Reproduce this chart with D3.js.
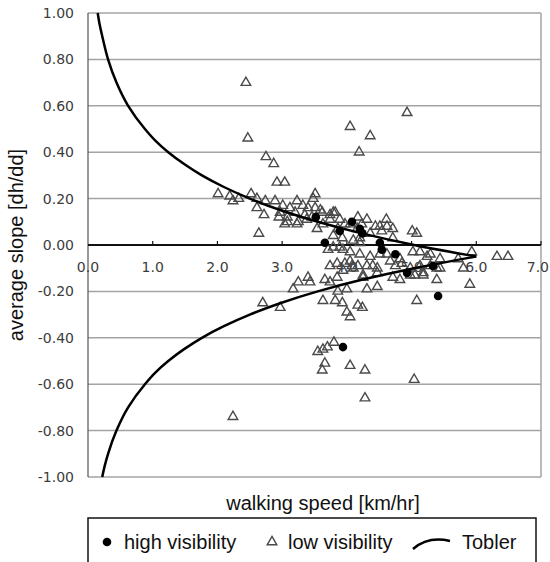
<!DOCTYPE html>
<html>
<head>
<meta charset="utf-8">
<script src="https://cdn.jsdelivr.net/npm/d3@7"></script>
<style>
  body { margin: 0; background: #fff; }
  svg { display: block; }
</style>
</head>
<body>
<div id="chart"></div>
<script>
const xTicks = [0, 1, 2, 3, 4, 5, 6, 7]
const yTicks = [1, 0.8, 0.6, 0.4, 0.2, 0, -0.2, -0.4, -0.6, -0.8, -1]

// high visibility (filled dots)
const highSpeed = [3.52, 3.66, 3.89, 4.08, 4.20, 4.24, 4.51, 4.54, 4.75, 4.93, 5.33, 5.41, 3.94]
const highSlope = [0.12, 0.01, 0.06, 0.10, 0.07, 0.05, 0.01, -0.02, -0.04, -0.12, -0.09, -0.22, -0.44]

// low visibility (open triangles)
const lowSpeed = [
  2.44, 2.47, 2.75, 2.87, 2.92, 3.04, 4.05, 4.36, 4.19, 4.93,
  2.01, 2.19, 2.24, 2.33, 2.52, 2.61, 2.74, 2.89, 2.61, 2.72,
  2.95, 2.64, 3.08, 3.23, 3.23, 3.32, 3.51, 3.48, 3.51, 3.38,
  3.62, 3.54, 3.74, 3.82, 3.01, 3.12, 3.40, 3.59, 3.08, 3.20,
  3.35, 3.46, 3.79, 3.74, 3.89, 3.63, 3.86, 3.97, 4.17, 4.23,
  4.31, 3.04, 3.25, 3.79, 3.93, 4.10, 4.20, 4.44, 4.51, 4.61,
  4.62, 4.54, 4.71, 5.01, 5.08, 4.05, 4.16, 4.36, 4.71, 2.97,
  5.93, 6.32, 6.49,
  3.79, 3.94, 3.71, 3.89, 4.20, 4.05, 4.20, 4.05, 4.10, 3.74,
  3.85, 3.94, 4.17, 4.25, 4.31, 4.40, 4.47, 4.36, 4.51, 4.62,
  4.67, 4.75, 4.82, 4.85, 4.98, 4.47, 4.71, 4.82, 4.98, 5.05,
  5.18, 5.02, 5.13, 5.24, 5.29, 5.44, 5.13, 5.29, 5.39, 5.44,
  5.72, 5.80, 5.39, 5.18, 5.90, 5.08, 4.47, 4.31, 4.25, 3.66,
  3.74, 3.85, 3.86, 4.00, 3.63, 3.82, 3.93, 4.00, 4.05, 4.17,
  4.24, 3.17, 3.25, 3.40, 3.43, 2.70, 2.97, 4.08, 3.97,
  3.55, 3.63, 3.70, 3.80, 3.66, 3.62, 4.05, 4.28, 5.04, 4.28, 2.24
]
const lowSlope = [
  0.70, 0.46, 0.38, 0.35, 0.27, 0.27, 0.51, 0.47, 0.40, 0.57,
  0.22, 0.21, 0.19, 0.20, 0.22, 0.20, 0.19, 0.19, 0.16, 0.13,
  0.12, 0.05, 0.10, 0.19, 0.09, 0.17, 0.22, 0.20, 0.16, 0.11,
  0.14, 0.07, 0.13, 0.14, 0.17, 0.16, 0.16, 0.15, 0.12, 0.14,
  0.13, 0.12, 0.14, 0.11, 0.11, 0.09, 0.07, 0.09, 0.12, 0.09,
  0.11, 0.09, 0.10, 0.04, 0.03, 0.02, 0.03, 0.08, 0.08, 0.11,
  0.08, 0.06, 0.07, 0.06, 0.05, 0.09, 0.07, 0.05, 0.03, 0.14,
  -0.03, -0.05, -0.05,
  -0.01, -0.02, -0.02, -0.01, 0.01, -0.03, -0.04, -0.07, -0.10, -0.09,
  -0.08, -0.11, -0.09, -0.13, -0.09, -0.09, -0.10, -0.05, -0.04, -0.04,
  -0.07, -0.09, -0.06, -0.08, -0.10, -0.12, -0.14, -0.15, -0.13, -0.13,
  -0.12, -0.03, -0.03, -0.05, -0.04, -0.06, -0.09, -0.09, -0.10, -0.10,
  -0.06, -0.10, -0.15, -0.13, -0.17, -0.24, -0.18, -0.19, -0.14, -0.15,
  -0.16, -0.14, -0.20, -0.19, -0.24, -0.24, -0.25, -0.29, -0.31, -0.26,
  -0.27, -0.19, -0.16, -0.14, -0.16, -0.25, -0.27, -0.09, -0.08,
  -0.46, -0.45, -0.44, -0.42, -0.51, -0.54, -0.52, -0.54, -0.58, -0.66, -0.74
]

// Tobler curve: upper branch then lower branch
const toblerUpSpeed = [0.15, 0.18, 0.22, 0.31, 0.44, 0.62, 0.88, 1.04, 1.24, 1.48, 1.76, 2.10, 2.50, 2.98, 3.55, 4.23, 5.04, 6.00]
const toblerUpSlope = [1.00, 0.95, 0.90, 0.80, 0.70, 0.60, 0.50, 0.45, 0.40, 0.35, 0.30, 0.25, 0.20, 0.15, 0.10, 0.05, 0.00, -0.05]
const toblerDownSpeed = [6.00, 5.04, 4.23, 3.55, 2.98, 2.50, 2.10, 1.76, 1.48, 1.24, 1.04, 0.88, 0.62, 0.44, 0.31, 0.26, 0.22]
const toblerDownSlope = [-0.05, -0.10, -0.15, -0.20, -0.25, -0.30, -0.35, -0.40, -0.45, -0.50, -0.55, -0.60, -0.70, -0.80, -0.90, -0.95, -1.00]

const WIDTH = 550
const HEIGHT = 562
const LEFT = 88
const RIGHT = 541
const TOP = 13
const BOTTOM = 477
const GRID = '#a3a3a3'
const TICK_TEXT = '#3c3c3c'

const svg = d3.select('#chart').append('svg')
                               .attr('width', WIDTH)
                               .attr('height', HEIGHT)

const x = d3.scaleLinear().domain([0, 7]).range([LEFT, RIGHT])
const y = d3.scaleLinear().domain([-1, 1]).range([BOTTOM, TOP])

// horizontal gridlines
svg.append('g')
     .selectAll('line')
     .data(yTicks.filter(d => d !== 0))
     .enter()
       .append('line')
       .attr('x1', LEFT)
       .attr('x2', RIGHT)
       .attr('y1', d => y(d))
       .attr('y2', d => y(d))
       .attr('stroke', GRID)
       .attr('stroke-width', 1.5)

// right border and left axis
svg.append('line')
     .attr('x1', RIGHT).attr('x2', RIGHT)
     .attr('y1', TOP).attr('y2', BOTTOM)
     .attr('stroke', GRID)
     .attr('stroke-width', 1.5)
svg.append('line')
     .attr('x1', LEFT).attr('x2', LEFT)
     .attr('y1', TOP).attr('y2', BOTTOM)
     .attr('stroke', '#555')
     .attr('stroke-width', 1.2)

// y tick labels (plain hyphen for negatives, as in the original)
svg.append('g')
     .selectAll('text')
     .data(yTicks)
     .enter()
       .append('text')
       .attr('x', 74)
       .attr('y', d => y(d))
       .attr('dy', '0.36em')
       .attr('text-anchor', 'end')
       .attr('font-family', 'DejaVu Sans, Verdana, sans-serif')
       .attr('font-size', 14)
       .attr('fill', TICK_TEXT)
       .text(d => d.toFixed(2))

// x tick labels, sitting just below the zero line; the last one is
// pulled left a little so it stays inside the page
const lastTick = xTicks[xTicks.length - 1]
svg.append('g')
     .selectAll('text')
     .data(xTicks)
     .enter()
       .append('text')
       .attr('x', d => d === lastTick ? WIDTH - 1 : x(d))
       .attr('y', y(0) + 27)
       .attr('text-anchor', d => d === lastTick ? 'end' : 'middle')
       .attr('font-family', 'DejaVu Sans, Verdana, sans-serif')
       .attr('font-size', 14)
       .attr('fill', TICK_TEXT)
       .text(d => d.toFixed(1))

// zero line with tick marks
svg.append('line')
     .attr('x1', LEFT).attr('x2', RIGHT)
     .attr('y1', y(0)).attr('y2', y(0))
     .attr('stroke', '#111')
     .attr('stroke-width', 2)
svg.append('g')
     .selectAll('line')
     .data(xTicks.slice(1))
     .enter()
       .append('line')
       .attr('x1', d => x(d)).attr('x2', d => x(d))
       .attr('y1', y(0) - 4).attr('y2', y(0))
       .attr('stroke', '#111')
       .attr('stroke-width', 1.2)

// low visibility triangles
const triangle = d3.symbol().type(d3.symbolTriangle).size(40)
svg.append('g')
     .selectAll('path')
     .data(d3.range(lowSpeed.length))
     .enter()
       .append('path')
       .attr('d', triangle)
       .attr('transform', i => `translate(${x(lowSpeed[i])},${y(lowSlope[i])})`)
       .attr('fill', 'none')
       .attr('stroke', '#4a4a4a')
       .attr('stroke-width', 1.4)

// high visibility dots
svg.append('g')
     .selectAll('circle')
     .data(d3.range(highSpeed.length))
     .enter()
       .append('circle')
       .attr('cx', i => x(highSpeed[i]))
       .attr('cy', i => y(highSlope[i]))
       .attr('r', 4.3)
       .attr('fill', '#000')

// Tobler curve
const toblerLine = d3.line()
                     .x(d => x(d[0]))
                     .y(d => y(d[1]))
                     .curve(d3.curveMonotoneY)
const branches = [
  d3.zip(toblerUpSpeed, toblerUpSlope),
  d3.zip(toblerDownSpeed, toblerDownSlope)
]
svg.append('g')
     .selectAll('path')
     .data(branches)
     .enter()
       .append('path')
       .attr('d', toblerLine)
       .attr('fill', 'none')
       .attr('stroke', '#000')
       .attr('stroke-width', 2.5)

// axis titles
svg.append('text')
     .attr('transform', `translate(23,${(TOP + BOTTOM) / 2}) rotate(-90)`)
     .attr('text-anchor', 'middle')
     .attr('font-family', 'Liberation Sans, Arial, sans-serif')
     .attr('font-size', 20)
     .attr('fill', '#111')
     .text('average slope [dh/dd]')
svg.append('text')
     .attr('x', 323)
     .attr('y', 510)
     .attr('text-anchor', 'middle')
     .attr('font-family', 'Liberation Sans, Arial, sans-serif')
     .attr('font-size', 20)
     .attr('fill', '#111')
     .text('walking speed [km/hr]')

// legend
const legend = svg.append('g')
legend.append('rect')
        .attr('x', LEFT)
        .attr('y', 518)
        .attr('width', 536 - LEFT)
        .attr('height', 60)
        .attr('fill', '#fff')
        .attr('stroke', '#111')
        .attr('stroke-width', 1.5)
legend.append('circle')
        .attr('cx', 107)
        .attr('cy', 542)
        .attr('r', 4.3)
        .attr('fill', '#000')
legend.append('path')
        .attr('d', triangle)
        .attr('transform', 'translate(272,542)')
        .attr('fill', 'none')
        .attr('stroke', '#4a4a4a')
        .attr('stroke-width', 1.4)
legend.append('path')
        .attr('d', 'M413,549 Q428,536 450,541')
        .attr('fill', 'none')
        .attr('stroke', '#000')
        .attr('stroke-width', 2.5)
const legendText = [['high visibility', 124], ['low visibility', 288], ['Tobler', 462]]
legend.selectAll('text')
        .data(legendText)
        .enter()
          .append('text')
          .attr('x', d => d[1])
          .attr('y', 549)
          .attr('font-family', 'Liberation Sans, Arial, sans-serif')
          .attr('font-size', 20)
          .attr('fill', '#111')
          .text(d => d[0])
</script>
</body>
</html>
